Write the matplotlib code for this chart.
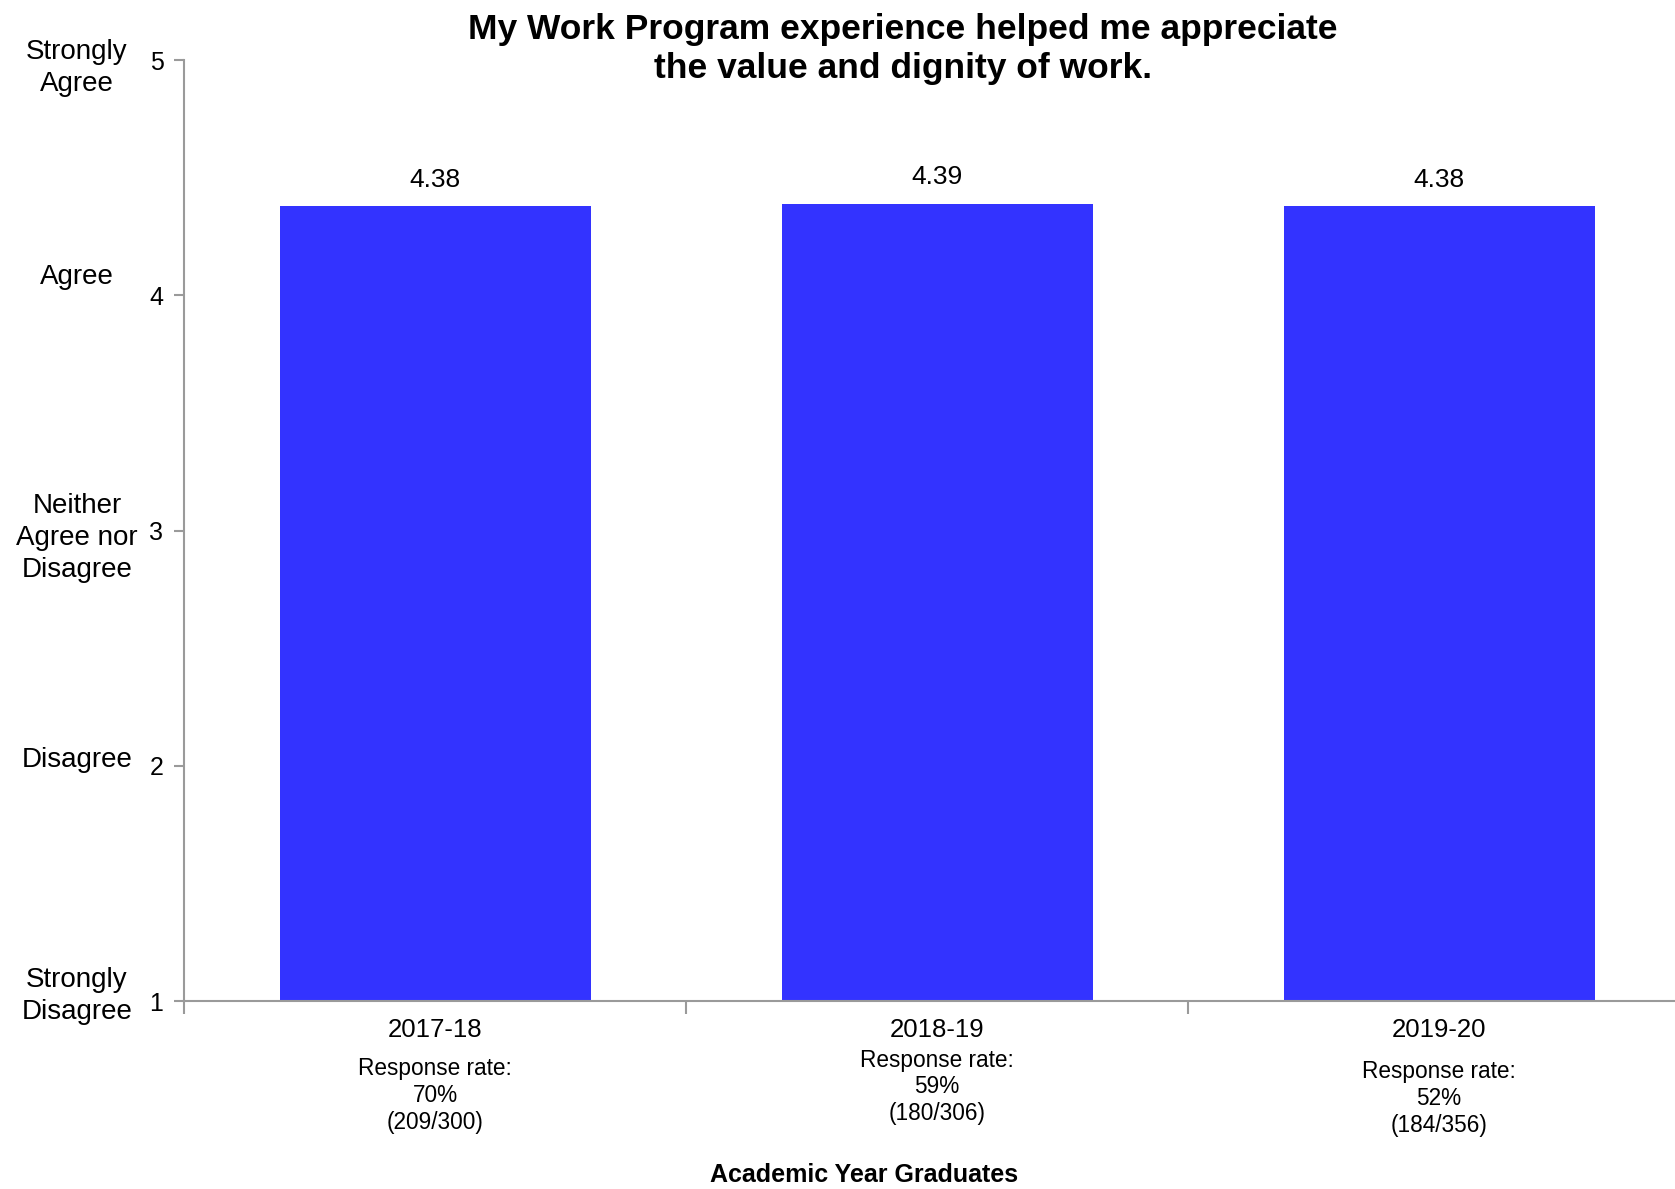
import matplotlib.pyplot as plt
import matplotlib.transforms as mtransforms
import numpy as np

plt.rcParams['font.family'] = ['Liberation Sans', 'DejaVu Sans']

years = ['2017-18', '2018-19', '2019-20']
scores = [4.38, 4.39, 4.38]
rate_pct = ['70%', '59%', '52%']
rate_counts = ['(209/300)', '(180/306)', '(184/356)']
scale_vals = [1, 2, 3, 4, 5]
scale_names = ['Strongly\nDisagree', 'Disagree', 'Neither\nAgree nor\nDisagree', 'Agree', 'Strongly\nAgree']

fig = plt.figure(figsize=(16.75, 11.89), dpi=100)
# axes runs a bit past the right edge of the figure, as in the original
ax = fig.add_axes([0.110, 0.158, 0.899, 0.7915])

x = np.arange(len(years))
ax.bar(x, [s - 1 for s in scores], bottom=1, width=0.62, color='#3333FF')
ax.set_xlim(-0.5, 2.5)
ax.set_ylim(1, 5)

# value labels
for xi, s in zip(x, scores):
    ax.text(xi, s + 0.06, f'{s:.2f}', ha='center', va='bottom', fontsize=19)

# spines / ticks
grey = '#9a9a9a'
for side in ['top', 'right']:
    ax.spines[side].set_visible(False)
for side in ['left', 'bottom']:
    ax.spines[side].set_color(grey)
    ax.spines[side].set_linewidth(1.5)
ax.set_yticks(scale_vals)
ax.set_yticklabels([str(v) for v in scale_vals], fontsize=18)
ax.tick_params(axis='y', length=7, width=1.5, color=grey, pad=8)
ax.set_xticks([-0.5, 0.5, 1.5, 2.5])
ax.set_xticklabels([])
ax.tick_params(axis='x', length=9, width=1.5, color=grey, direction='out')

# left scale descriptions
trans_y = mtransforms.blended_transform_factory(fig.transFigure, ax.transData)
name_dy = [0.02, 0.027, -0.03, 0.077, -0.035]
for v, name, dy in zip(scale_vals, scale_names, name_dy):
    ax.text(0.046, v + dy, name, transform=trans_y, ha='center', va='center',
            fontsize=20, linespacing=1.3)

# category labels and response rates
trans_x = mtransforms.blended_transform_factory(ax.transData, fig.transFigure)
rate_y = [0.079, 0.0858, 0.0765]
for xi, yr, pct, cnt, ry in zip(x, years, rate_pct, rate_counts, rate_y):
    ax.text(xi, 1 - 1030 / 1189, yr, transform=trans_x, ha='center', va='center', fontsize=18.5)
    ax.text(xi, ry, f'Response rate:\n{pct}\n{cnt}', transform=trans_x, ha='center',
            va='center', fontsize=16.3, linespacing=1.22)

fig.text(0.516, 1 - 1175 / 1189, 'Academic Year Graduates', ha='center', va='center',
         fontsize=18, fontweight='bold')
fig.text(0.539, 1 - 49 / 1189, 'My Work Program experience helped me appreciate\nthe value and dignity of work.',
         ha='center', va='center', fontsize=25.5, fontweight='bold', linespacing=1.25)

fig.savefig('out.png', dpi=100)
